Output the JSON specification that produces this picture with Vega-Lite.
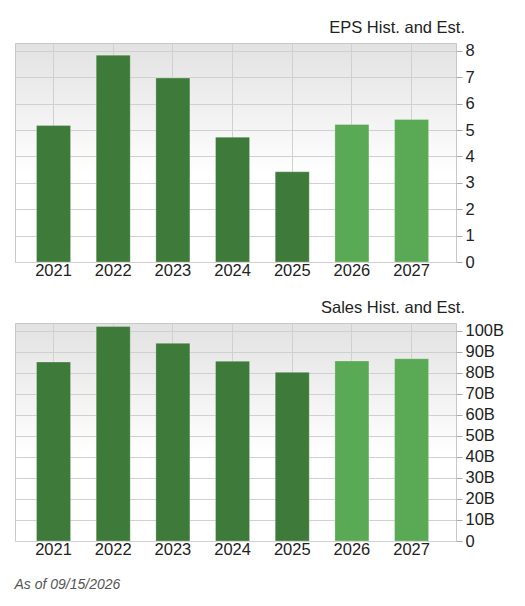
{
  "$schema": "https://vega.github.io/schema/vega-lite/v6.json",
  "background": "white",
  "padding": {"left": 14, "top": 19, "right": 5, "bottom": 5},
  "config": {
    "font": "Liberation Sans",
    "view": {
      "stroke": "#c8c8c8",
      "strokeWidth": 1,
      "fill": {
        "gradient": "linear", "x1": 0, "y1": 0, "x2": 0, "y2": 1,
        "stops": [{"offset": 0, "color": "#e2e2e2"}, {"offset": 0.6, "color": "#ffffff"}, {"offset": 1, "color": "#ffffff"}]
      }
    },
    "axis": {
      "gridColor": "#d0d0d0",
      "gridOpacity": 1,
      "labelFontSize": 16.5,
      "labelColor": "#222",
      "labelOverlap": false,
      "domain": false,
      "title": null
    },
    "title": {"fontSize": 16.5, "fontWeight": "normal", "color": "#222", "anchor": "end", "frame": "group"}
  },
  "datasets": {
    "eps": [
      {"year": "2021", "value": 5.17, "kind": "hist"},
      {"year": "2022", "value": 7.84, "kind": "hist"},
      {"year": "2023", "value": 6.97, "kind": "hist"},
      {"year": "2024", "value": 4.73, "kind": "hist"},
      {"year": "2025", "value": 3.42, "kind": "hist"},
      {"year": "2026", "value": 5.21, "kind": "est"},
      {"year": "2027", "value": 5.40, "kind": "est"}
    ],
    "sales": [
      {"year": "2021", "value": 85.2, "kind": "hist"},
      {"year": "2022", "value": 102.1, "kind": "hist"},
      {"year": "2023", "value": 94.1, "kind": "hist"},
      {"year": "2024", "value": 85.6, "kind": "hist"},
      {"year": "2025", "value": 80.3, "kind": "hist"},
      {"year": "2026", "value": 85.7, "kind": "est"},
      {"year": "2027", "value": 86.8, "kind": "est"}
    ]
  },
  "title": {
    "text": "As of 09/15/2026",
    "orient": "bottom",
    "anchor": "start",
    "frame": "bounds",
    "fontSize": 14,
    "fontStyle": "italic",
    "color": "#555",
    "offset": 20
  },
  "vconcat": [
    {
      "width": 441,
      "height": 219,
      "title": {"text": "EPS Hist. and Est.", "dx": 9, "offset": 6},
      "data": {"name": "eps"},
      "mark": {"type": "bar", "stroke": "#ffffff", "strokeOpacity": 0.25, "strokeWidth": 1},
      "encoding": {
        "x": {
          "field": "year", "type": "nominal",
          "scale": {"paddingInner": 0.43, "paddingOuter": 0.41, "align": 0.44},
          "axis": {"labelAngle": 0, "grid": true, "ticks": false, "bandPosition": 0.5, "labelPadding": 0}
        },
        "y": {
          "field": "value", "type": "quantitative",
          "scale": {"domain": [0, 8.3], "nice": false},
          "axis": {"orient": "right", "values": [0, 1, 2, 3, 4, 5, 6, 7, 8], "tickColor": "#aaa", "tickSize": 6, "labelPadding": 3}
        },
        "color": {
          "field": "kind", "type": "nominal",
          "scale": {"domain": ["hist", "est"], "range": ["#3e7a39", "#5aa954"]},
          "legend": null
        }
      }
    },
    {
      "width": 441,
      "height": 218,
      "title": {"text": "Sales Hist. and Est.", "dx": 9, "offset": 6},
      "data": {"name": "sales"},
      "mark": {"type": "bar", "stroke": "#ffffff", "strokeOpacity": 0.25, "strokeWidth": 1},
      "encoding": {
        "x": {
          "field": "year", "type": "nominal",
          "scale": {"paddingInner": 0.43, "paddingOuter": 0.41, "align": 0.44},
          "axis": {"labelAngle": 0, "grid": true, "ticks": false, "bandPosition": 0.5, "labelPadding": 0}
        },
        "y": {
          "field": "value", "type": "quantitative",
          "scale": {"domain": [0, 103.8], "nice": false},
          "axis": {
            "orient": "right",
            "values": [0, 10, 20, 30, 40, 50, 60, 70, 80, 90, 100],
            "labelExpr": "datum.value == 0 ? '0' : datum.value + 'B'",
            "tickColor": "#aaa", "tickSize": 6, "labelPadding": 3
          }
        },
        "color": {
          "field": "kind", "type": "nominal",
          "scale": {"domain": ["hist", "est"], "range": ["#3e7a39", "#5aa954"]},
          "legend": null
        }
      }
    }
  ],
  "spacing": 20
}
